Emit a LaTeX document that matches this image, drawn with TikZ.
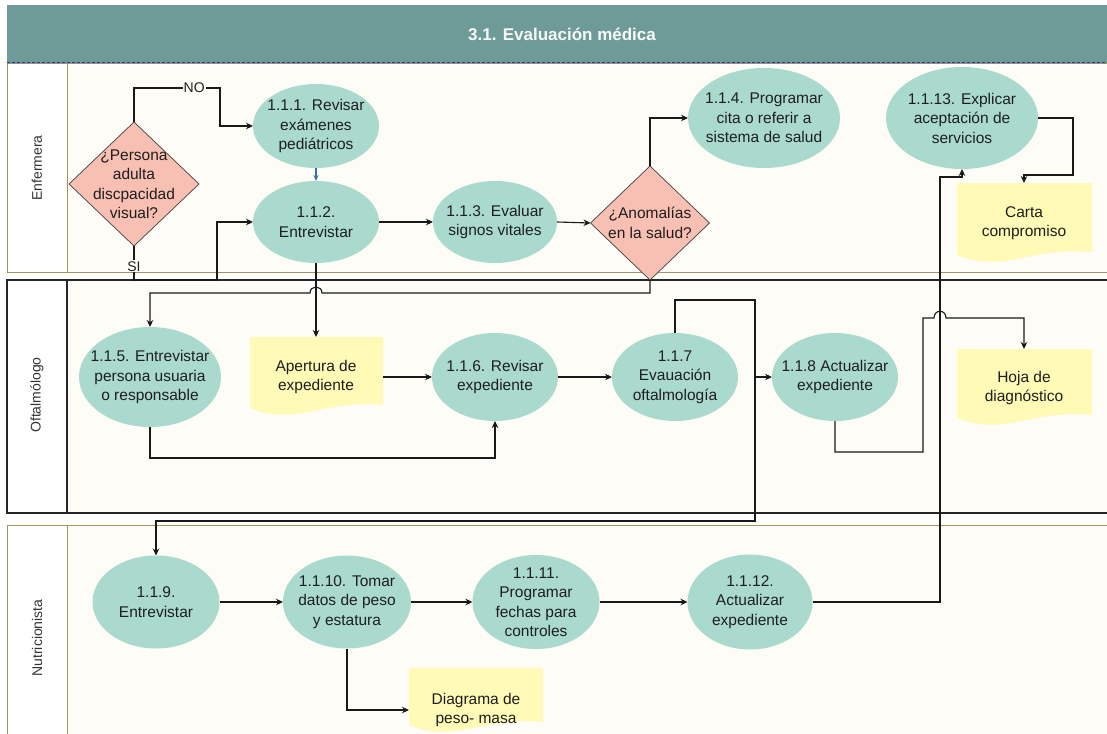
\documentclass[tikz,border=0pt]{standalone}
\usepackage{fontspec}
\setmainfont{Liberation Sans}
\usetikzlibrary{shapes.geometric, arrows.meta}

\definecolor{headteal}{RGB}{110,154,152}
\definecolor{procfill}{RGB}{170,218,206}
\definecolor{decfill}{RGB}{248,192,178}
\definecolor{docfill}{RGB}{255,250,182}
\definecolor{lanebg}{RGB}{253,252,246}
\definecolor{olive}{RGB}{160,150,92}
\definecolor{dotblue}{RGB}{40,50,200}
\definecolor{inkgray}{RGB}{30,30,30}
\definecolor{arrowblue}{RGB}{60,110,170}

\tikzset{
  txt/.style={font=\fontsize{15.5}{19.5}\selectfont, text=inkgray, align=center, inner sep=0pt},
  titletxt/.style={font=\bfseries\fontsize{17}{20}\selectfont, text=white!95!headteal},
  lanelbl/.style={font=\fontsize{14}{17}\selectfont, text=black!80, rotate=90},
  proc/.style={ellipse, fill=procfill, inner sep=0pt, outer sep=0pt},
  decision/.style={diamond, fill=decfill, draw=black!75, line width=0.7pt, inner sep=0pt, outer sep=0pt},
  docnode/.style={rectangle, inner sep=0pt, outer sep=0pt, txt},
  link/.style={line width=1.1pt, draw=black!90},
  flow/.style={link, -{Stealth[length=7pt,width=6.5pt]}},
  blueflow/.style={line width=1.1pt, draw=arrowblue, -{Stealth[length=6pt,width=5pt]}},
  lbl/.style={fill=lanebg, inner sep=1pt, font=\fontsize{14}{16}\selectfont, text=inkgray}
}

% yellow document shape with a wavy bottom: left, top, right, bottom at the right edge
\newcommand\docpath[4]{%
  \fill[docfill] (#1,#2) -- (#3,#2) -- (#3,#4)
    .. controls ({#3-0.45*(#3-#1)},{#4-6}) and ({#1+0.35*(#3-#1)},{#4+22}) .. (#1,{#4+3}) -- cycle;}

\begin{document}
\begin{tikzpicture}[x=1pt,y=-1pt]
\clip (0,0) rectangle (1107,733);
\fill[white] (0,0) rectangle (1107,733);

% header bar
\fill[headteal] (7,5) rectangle (1112,63);
\node[titletxt] (title) at (562,34) {3.1. Evaluación médica};

% swimlanes
\fill[lanebg] (7,64) rectangle (1112,272);
\fill[white] (7,64) rectangle (67,272);
\draw[olive, line width=1pt] (7,64) rectangle (1112,272) (67,64) -- (67,272);

\fill[lanebg] (7,280) rectangle (1112,513);
\fill[white] (7,280) rectangle (67,513);
\draw[black!85, line width=1.1pt] (7,280) rectangle (1112,513) (67,280) -- (67,513);

\fill[lanebg] (7,525) rectangle (1112,745);
\fill[white] (7,525) rectangle (67,745);
\draw[olive, line width=1pt] (7,525) rectangle (1112,745) (67,525) -- (67,745);

\draw[dotblue, line width=1pt, dash pattern=on 2.5pt off 2.5pt] (7,63) -- (1107,63);

\node[lanelbl] (lEnf) at (37,168) {Enfermera};
\node[lanelbl] (lOft) at (37,395) {Oftalmólogo};
\node[lanelbl] (lNut) at (37,638) {Nutricionista};

% documents
\docpath{250}{337}{383}{405}
\node[docnode, minimum width=133pt, minimum height=80pt] (apertura) at (316,377) {Apertura de\\expediente};
\docpath{957}{349}{1092}{415}
\node[docnode, minimum width=135pt, minimum height=78pt] (hoja) at (1024,388) {Hoja de\\diagnóstico};
\docpath{957}{183}{1092}{252}
\node[docnode, minimum width=135pt, minimum height=80pt] (carta) at (1024,223) {Carta\\compromiso};
\docpath{409}{668}{543}{722}
\node[docnode, minimum width=134pt, minimum height=84pt] (diagrama) at (476,710) {Diagrama de\\peso- masa};

% decisions
\node[decision, minimum width=130pt, minimum height=124pt,
  label={[txt]center:{¿Persona\\adulta\\discpacidad\\visual?}}] (d1) at (134,184) {};
\node[decision, minimum width=119pt, minimum height=114pt,
  label={[txt]center:{¿Anomalías\\en la salud?}}] (d2) at (650,223) {};

% activities, Enfermera
\node[proc, minimum width=126pt, minimum height=84pt,
  label={[txt]center:{1.1.1. Revisar\\exámenes\\pediátricos}}] (p111) at (316,126) {};
\node[proc, minimum width=126pt, minimum height=82pt,
  label={[txt]center:{1.1.2.\\Entrevistar}}] (p112) at (316,222) {};
\node[proc, minimum width=124pt, minimum height=82pt,
  label={[txt]center:{1.1.3. Evaluar\\signos vitales}}] (p113) at (495,222) {};
\node[proc, minimum width=152pt, minimum height=100pt,
  label={[txt]center:{1.1.4. Programar\\cita o referir a\\sistema de salud}}] (p114) at (764,118) {};
\node[proc, minimum width=152pt, minimum height=102pt,
  label={[txt]center:{1.1.13. Explicar\\aceptación de\\servicios}}] (p1113) at (962,118) {};

% activities, Oftalmólogo
\node[proc, minimum width=142pt, minimum height=100pt,
  label={[txt]center:{1.1.5. Entrevistar\\persona usuaria\\o responsable}}] (p115) at (150,377) {};
\node[proc, minimum width=126pt, minimum height=88pt,
  label={[txt]center:{1.1.6. Revisar\\expediente}}] (p116) at (495,377) {};
\node[proc, minimum width=126pt, minimum height=88pt,
  label={[txt]center:{1.1.7\\Evauación\\oftalmología}}] (p117) at (675,377) {};
\node[proc, minimum width=126pt, minimum height=88pt,
  label={[txt]center:{1.1.8 Actualizar\\expediente}}] (p118) at (835,377) {};

% activities, Nutricionista
\node[proc, minimum width=127pt, minimum height=93pt,
  label={[txt]center:{1.1.9.\\Entrevistar}}] (p119) at (156,602) {};
\node[proc, minimum width=128pt, minimum height=93pt,
  label={[txt]center:{1.1.10. Tomar\\datos de peso\\y estatura}}] (p1110) at (347,602) {};
\node[proc, minimum width=127pt, minimum height=94pt,
  label={[txt]center:{1.1.11.\\Programar\\fechas para\\controles}}] (p1111) at (536,602) {};
\node[proc, minimum width=125pt, minimum height=95pt,
  label={[txt]center:{1.1.12.\\Actualizar\\expediente}}] (p1112) at (750,602) {};

% connectors
\coordinate (j1) at (755,377);

\draw[flow] (d1.north) -- (134,88) -- node[lbl, pos=0.7] (lno) {NO} (220,88) |- (p111.west);
\draw[flow] (d1.south) -- node[lbl, pos=0.6] (lsi) {SI} (134,280) -- (217,280) |- (p112.west);
\draw[blueflow] (p111.south) -- (p112.north);
\draw[flow] (p112.east) -- (p113.west);
\draw[flow] (p113.east) -- (d2.west);
\draw[flow] (d2.north) |- (p114.west);
\draw[flow] (d2.south) -- (650,293) -- (322,293)
  .. controls (322,285) and (310,285) .. (310,293) -- (150,293) -- (p115.north);
\draw[flow] (p112.south) -- (apertura.north);
\draw[flow] (apertura.east) -- (p116.west);
\draw[flow] (p115.south) -- (150,458) -| (p116.south);
\draw[flow] (p116.east) -- (p117.west);
\draw[flow] (p117.north) |- (755,300) -- (755,521) -| (p119.north);
\draw[flow] (j1) -- (p118.west);
\draw[flow] (p118.south) -- (835,452) -- (923,452) -- (923,318) -- (934,318)
  .. controls (934,309) and (946,309) .. (946,318) -| (hoja.north);
\draw[flow] (p119.east) -- (p1110.west);
\draw[flow] (p1110.east) -- (p1111.west);
\draw[flow] (p1111.east) -- (p1112.west);
\draw[flow] (p1110.south) |- (diagrama.west);
\draw[flow] (p1112.east) -| (940,177) -| (p1113.south);
\draw[flow] (p1113.east) -| (1073,175) -| (carta.north);
\end{tikzpicture}
\end{document}
